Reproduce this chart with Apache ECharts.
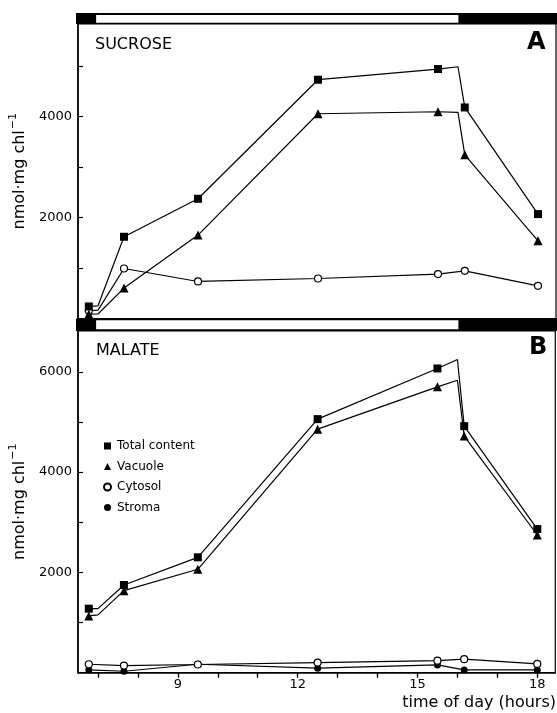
<!DOCTYPE html>
<html><head><meta charset="utf-8">
<script src="https://cdn.jsdelivr.net/npm/echarts@6/dist/echarts.min.js"></script>
<style>html,body{margin:0;padding:0;background:#fff}#c{width:557px;height:713px}</style>
</head><body><div id="c"></div>
<script>
// ---- data ----
const hours = [6.77, 7.65, 9.5, 12.5, 15.5, 16.17, 18.0];
const kinkHours = [7.0, 16.0];
const sucroseTotal = [238, 1618, 2370, 4727, 4938, 4178, 2067];
const sucroseTotalKinks = [251, 4984];
const sucroseVacuole = [87, 602, 1651, 4053, 4093, 3241, 1538];
const sucroseVacuoleKinks = [90, 4079];
const sucroseCytosol = [152, 990, 733, 792, 879, 944, 647];
const sucroseCytosolKinks = [166, null];
const malateTotal = [1274, 1747, 2299, 5057, 6068, 4917, 2863];
const malateTotalKinks = [1274, 6247];
const malateVacuole = [1129, 1633, 2060, 4857, 5701, 4718, 2744];
const malateVacuoleKinks = [1149, 5834];
const malateCytosol = [165, 138, 160, 198, 237, 265, 171];
const malateStroma = [52, 25, 165, 86, 151, 52, 52];
const hourTicks = [7, 8, 9, 10, 11, 12, 13, 14, 15, 16, 17, 18];
const hourLabels = [9, 12, 15, 18];
const sucroseTicks = [1000, 2000, 3000, 4000, 5000];
const sucroseLabels = [2000, 4000];
const malateTicks = [1000, 2000, 3000, 4000, 5000, 6000];
const malateLabels = [2000, 4000, 6000];
const lightPeriod = [7, 16];
const legendNames = ['Total content', 'Vacuole', 'Cytosol', 'Stroma'];

// ---- helpers ----
function build(vals, kinks) {
  const pts = vals.map((v, i) => ({ value: [hours[i], v] }));
  if (kinks) kinks.forEach((k, j) => { if (k != null) pts.push({ value: [kinkHours[j], k], symbol: 'none' }); });
  pts.sort((a, b) => a.value[0] - b.value[0]);
  return pts;
}
const F = 'DejaVu Sans';
const XMIN = 6.5, XMAX = 18.45;
const lineStyle = { color: '#000', width: 1.2 };
const plain = v => String(v);
function mk(name, data, symbol, size, open, xi, yi) {
  return {
    type: 'line', name, data, xAxisIndex: xi, yAxisIndex: yi,
    symbol, symbolSize: size, showSymbol: true,
    lineStyle, z: 3,
    itemStyle: open ? { color: '#fff', borderColor: '#000', borderWidth: 1.2 } : { color: '#000', borderColor: '#000', borderWidth: 0 },
    emphasis: { disabled: true }
  };
}
const yName = {
  name: '{a|nmol·mg chl}{b|−1}', nameLocation: 'middle', nameGap: 44, nameRotate: 90,
  nameTextStyle: { rich: {
    a: { fontFamily: F, fontSize: 16, color: '#000', lineHeight: 20, verticalAlign: 'bottom' },
    b: { fontFamily: F, fontSize: 11, color: '#000', lineHeight: 20, verticalAlign: 'top', padding: [0, 0, 0, 1] }
  } }
};
function yAxis(gi, max, ticks, labels) {
  return Object.assign({
    type: 'value', gridIndex: gi, min: 0, max,
    axisLine: { show: true, lineStyle: { color: '#000', width: 1.5 } },
    axisTick: { show: true, inside: true, length: 5, customValues: ticks, lineStyle: { color: '#000', width: 1.2 } },
    axisLabel: { show: true, customValues: labels, formatter: plain, margin: 6, fontFamily: F, fontSize: 13, color: '#000' },
    splitLine: { show: false }
  }, yName);
}
const bandAxisX = gi => ({ type: 'value', gridIndex: gi, min: XMIN, max: XMAX, show: false });
const bandAxisY = gi => ({ type: 'value', gridIndex: gi, min: 0, max: 1, show: false });
function bandSeries(xi, yi, lo, hi) {
  return {
    type: 'line', xAxisIndex: xi, yAxisIndex: yi, data: [], silent: true,
    markArea: { silent: true, itemStyle: { color: '#fff', borderWidth: 0 },
      data: [[{ xAxis: lightPeriod[0], yAxis: lo }, { xAxis: lightPeriod[1], yAxis: hi }]] }
  };
}

const option = {
  animation: false,
  backgroundColor: '#fff',
  grid: [
    { left: 78, top: 24, width: 478, height: 294.5, show: true, borderColor: '#000', borderWidth: 1.2, backgroundColor: 'transparent' },
    { left: 78, top: 331, width: 478, height: 341.5, show: true, borderColor: '#000', borderWidth: 1.2, backgroundColor: 'transparent' },
    { left: 76, top: 13, width: 481, height: 11, show: true, backgroundColor: '#000', borderWidth: 0 },
    { left: 76, top: 318.5, width: 481, height: 12.5, show: true, backgroundColor: '#000', borderWidth: 0 }
  ],
  title: [
    { text: 'SUCROSE', left: 95, top: 37, padding: 0, textStyle: { fontFamily: F, fontSize: 16, fontWeight: 'normal', color: '#000' } },
    { text: 'MALATE', left: 96, top: 343, padding: 0, textStyle: { fontFamily: F, fontSize: 16, fontWeight: 'normal', color: '#000' } },
    { text: 'A', left: 527, top: 31, padding: 0, textStyle: { fontFamily: F, fontSize: 24, fontWeight: 'bold', color: '#000' } },
    { text: 'B', left: 529, top: 336, padding: 0, textStyle: { fontFamily: F, fontSize: 24, fontWeight: 'bold', color: '#000' } }
  ],
  legend: {
    orient: 'vertical', left: 98, top: 434, itemWidth: 7, itemHeight: 7, itemGap: 6.5,
    textStyle: { fontFamily: F, fontSize: 12, color: '#000', lineHeight: 14, padding: [0, 0, 0, 1] },
    selectedMode: false,
    data: [
      { name: legendNames[0], icon: 'rect' },
      { name: legendNames[1], icon: 'triangle' },
      { name: legendNames[2], icon: 'circle' },
      { name: legendNames[3], icon: 'circle' }
    ]
  },
  xAxis: [
    { type: 'value', gridIndex: 0, position: 'top', min: XMIN, max: XMAX,
      axisLine: { show: false },
      axisTick: { show: true, inside: true, length: 5, customValues: hourTicks, lineStyle: { color: '#000', width: 1.2 } },
      axisLabel: { show: false }, splitLine: { show: false } },
    { type: 'value', gridIndex: 1, position: 'bottom', min: XMIN, max: XMAX,
      axisLine: { show: true, onZero: false, lineStyle: { color: '#000', width: 1.6 } },
      axisTick: { show: true, inside: false, length: 5, customValues: hourTicks, lineStyle: { color: '#000', width: 1.2 } },
      axisLabel: { show: true, customValues: hourLabels, formatter: plain, margin: 6, fontFamily: F, fontSize: 13, color: '#000' },
      splitLine: { show: false },
      name: 'time of day (hours)', nameLocation: 'end', nameGap: -153,
      nameTextStyle: { fontFamily: F, fontSize: 16, color: '#000', align: 'left', verticalAlign: 'top', padding: [22, 0, 0, 0] } },
    { type: 'value', gridIndex: 1, position: 'top', min: XMIN, max: XMAX,
      axisLine: { show: false },
      axisTick: { show: true, inside: true, length: 5, customValues: hourTicks, lineStyle: { color: '#000', width: 1.2 } },
      axisLabel: { show: false }, splitLine: { show: false } },
    bandAxisX(2),
    bandAxisX(3)
  ],
  yAxis: [
    yAxis(0, 5830, sucroseTicks, sucroseLabels),
    yAxis(1, 6816, malateTicks, malateLabels),
    bandAxisY(2),
    bandAxisY(3)
  ],
  series: [
    bandSeries(3, 2, 0.12, 0.82),
    bandSeries(4, 3, 0.14, 0.86),
    mk('Cytosol', build(sucroseCytosol, sucroseCytosolKinks), 'circle', 7, true, 0, 0),
    mk('Vacuole', build(sucroseVacuole, sucroseVacuoleKinks), 'triangle', 9, false, 0, 0),
    mk('Total content', build(sucroseTotal, sucroseTotalKinks), 'rect', 8, false, 0, 0),
    mk('Stroma', build(malateStroma, null), 'circle', 7, false, 1, 1),
    mk('Cytosol', build(malateCytosol, null), 'circle', 7, true, 1, 1),
    mk('Vacuole', build(malateVacuole, malateVacuoleKinks), 'triangle', 9, false, 1, 1),
    mk('Total content', build(malateTotal, malateTotalKinks), 'rect', 8, false, 1, 1)
  ]
};
const chart = echarts.init(document.getElementById('c'), null, { renderer: 'canvas' });
chart.setOption(option);
</script>
</body></html>
